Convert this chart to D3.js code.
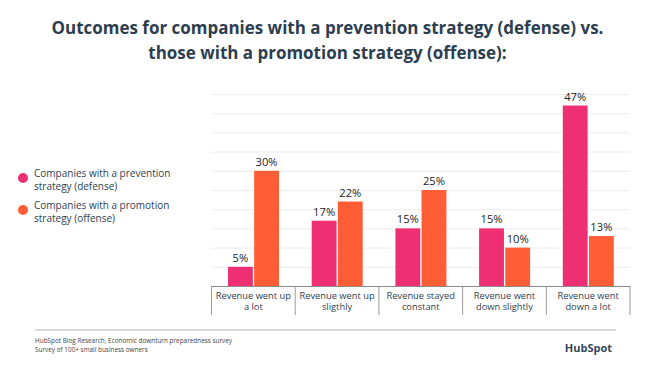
<!DOCTYPE html>
<html>
<head>
<meta charset="utf-8">
<script src="https://cdn.jsdelivr.net/npm/d3@7"></script>
<style>
  html, body { margin: 0; padding: 0; background: #fff; }
  svg { display: block; font-family: "Open Sans", sans-serif; }
</style>
</head>
<body>
<svg id="chart" width="650" height="367"></svg>
<script>
const categories = [
  ["Revenue went up", "a lot"],
  ["Revenue went up", "sligthly"],
  ["Revenue stayed", "constant"],
  ["Revenue went", "down slightly"],
  ["Revenue went", "down a lot"]
];
const seriesNames = [
  ["Companies with a prevention", "strategy (defense)"],
  ["Companies with a promotion", "strategy (offense)"]
];
const defenseValues = [5, 17, 15, 15, 47];
const offenseValues = [30, 22, 25, 10, 13];
const yTicks = [0, 5, 10, 15, 20, 25, 30, 35, 40, 45, 50];
const titleLines = [
  "Outcomes for companies with a prevention strategy (defense) vs.",
  "those with a promotion strategy (offense):"
];
const footerLines = [
  "HubSpot Blog Research, Economic downturn preparedness survey",
  "Survey of 100+ small business owners"
];
const colors = ["#ef2f74", "#ff5d36"];
const textColor = "#2d3e50";

const svg = d3.select("#chart");
const catKeys = categories.map((c, i) => i);
const seriesKeys = [0, 1];
const values = [defenseValues, offenseValues];

const x0 = d3.scaleBand().domain(catKeys).range([211.5, 630]).paddingInner(0).paddingOuter(0);
const x1 = d3.scaleBand().domain(seriesKeys).range([16.5, 67.5]).paddingInner(0.05);
const y = d3.scaleLinear().domain([0, 50]).range([286, 94]);

// fit helper: shrink/grow font so the text spans a target width
function fitWidth(sel, target) {
  sel.each(function () {
    const w = this.getComputedTextLength();
    const fs = parseFloat(d3.select(this).attr("font-size"));
    if (w > 0) d3.select(this).attr("font-size", fs * target / w);
  });
}

// Title
const title = svg.append("g").selectAll("text").data(titleLines).join("text")
  .attr("x", 327.5).attr("y", (d, i) => 34 + i * 24.5)
  .attr("text-anchor", "middle")
  .attr("font-size", 16).attr("font-weight", 700)
  .attr("fill", textColor)
  .text(d => d);
fitWidth(title.filter((d, i) => i === 0), 552);
title.filter((d, i) => i === 1).attr("font-size", title.filter((d, i) => i === 0).attr("font-size"));

// Gridlines
svg.append("g").selectAll("line").data(yTicks.filter(t => t > 0)).join("line")
  .attr("x1", 211.5).attr("x2", 630)
  .attr("y1", d => y(d) + 0.5).attr("y2", d => y(d) + 0.5)
  .attr("stroke", "#ececec").attr("stroke-width", 1);

// Bars
const groups = svg.append("g").selectAll("g").data(catKeys).join("g")
  .attr("transform", d => `translate(${x0(d)},0)`);
groups.selectAll("rect").data(ci => seriesKeys.map(si => ({ si, v: values[si][ci] }))).join("rect")
  .attr("x", d => x1(d.si))
  .attr("width", x1.bandwidth())
  .attr("y", d => y(d.v))
  .attr("height", d => y(0) - y(d.v))
  .attr("fill", d => colors[d.si]);
groups.selectAll("text.val").data(ci => seriesKeys.map(si => ({ si, v: values[si][ci] }))).join("text")
  .attr("class", "val")
  .attr("x", d => x1(d.si) + x1.bandwidth() / 2)
  .attr("y", d => y(d.v) - 5)
  .attr("text-anchor", "middle")
  .attr("font-size", 11.2).attr("font-weight", 500)
  .attr("fill", "#1e1e1e")
  .text(d => d.v + "%");

// Axis
const axis = svg.append("g").attr("transform", `translate(0,${y(0)})`)
  .call(d3.axisBottom(x0).tickSize(0).tickFormat(""));
axis.select(".domain").attr("stroke", "#8a8a8a").attr("stroke-width", 1.2);
// separators
const sepX = catKeys.map(k => x0(k)).concat([x0(catKeys[catKeys.length - 1]) + x0.bandwidth()]);
svg.append("g").selectAll("line").data(sepX).join("line")
  .attr("x1", d => d).attr("x2", d => d)
  .attr("y1", y(0)).attr("y2", 315)
  .attr("stroke", "#9a9a9a").attr("stroke-width", 1);
// category labels
svg.append("g").selectAll("text").data(catKeys).join("text")
  .attr("text-anchor", "middle")
  .attr("font-size", 9.3).attr("fill", textColor)
  .each(function (k) {
    const t = d3.select(this);
    categories[k].forEach((line, j) => {
      t.append("tspan").attr("x", x0(k) + x0.bandwidth() / 2).attr("y", 298.5 + j * 11.8).text(line);
    });
  });

// Legend
const leg = svg.append("g").selectAll("g").data(seriesKeys).join("g")
  .attr("transform", d => `translate(0,${178 + d * 32})`);
leg.append("circle").attr("cx", 23).attr("cy", 0).attr("r", 5).attr("fill", d => colors[d]);
leg.each(function (d) {
  const g = d3.select(this);
  seriesNames[d].forEach((line, j) => {
    g.append("text").attr("font-size", 10).attr("fill", textColor)
      .attr("x", 34).attr("y", -1 + j * 13).text(line);
  });
});

// Footer
svg.append("line").attr("x1", 35).attr("x2", 616).attr("y1", 330).attr("y2", 330)
  .attr("stroke", "#b5b5b5").attr("stroke-width", 1);
svg.append("g").selectAll("text").data(footerLines).join("text")
  .attr("x", 35).attr("y", (d, i) => 342.5 + i * 9.3)
  .attr("font-size", 6.4).attr("fill", "#444")
  .text(d => d);
svg.append("text").attr("x", 612).attr("y", 352).attr("text-anchor", "end")
  .attr("font-size", 11).attr("font-weight", 700).attr("fill", "#33475b")
  .text("HubSpot");
</script>
</body>
</html>
